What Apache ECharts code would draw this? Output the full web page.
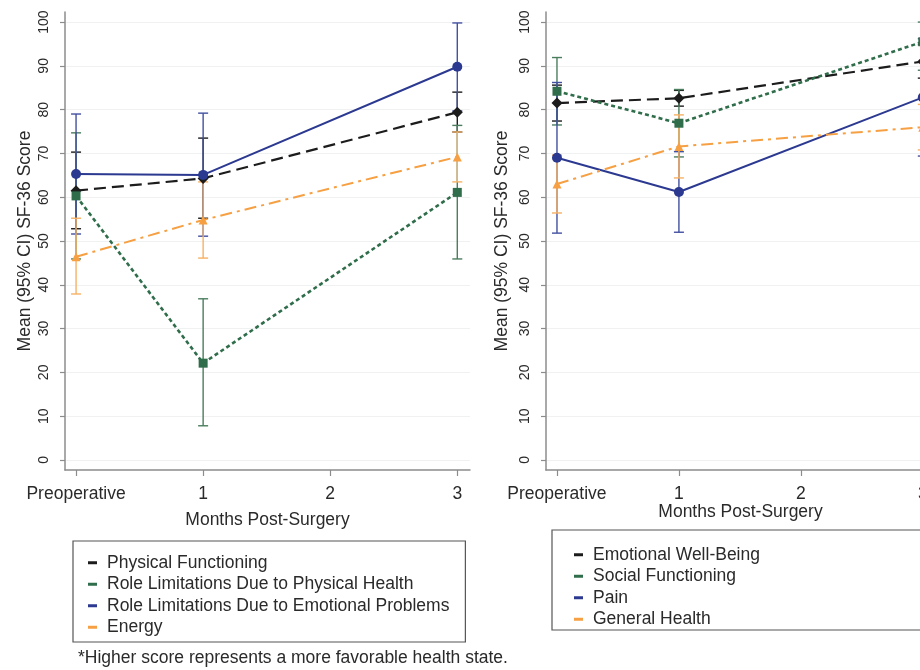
<!DOCTYPE html>
<html><head><meta charset="utf-8">
<script src="https://cdn.jsdelivr.net/npm/echarts@6/dist/echarts.min.js"></script>
<style>html,body{margin:0;padding:0;background:#fff}#c{width:920px;height:670px}</style>
</head><body><div id="c"></div>
<script>
// ---- tick labels / categories ----
const xTickValues = [0, 1, 2, 3];
const xTickLabels = ['Preoperative', '1', '2', '3'];
const yTickValues = [0, 10, 20, 30, 40, 50, 60, 70, 80, 90, 100];
const months = [0, 1, 3];

// ---- left panel ----
const pfName = 'Physical Functioning';
const pfMean = [61.5, 64.3, 79.4];
const pfLow  = [52.8, 55.2, 74.9];
const pfHigh = [70.3, 73.5, 84.0];

const rpName = 'Role Limitations Due to Physical Health';
const rpMean = [60.3, 22.1, 61.1];
const rpLow  = [45.9, 7.8, 45.9];
const rpHigh = [74.7, 36.8, 76.4];

const reName = 'Role Limitations Due to Emotional Problems';
const reMean = [65.3, 65.1, 89.8];
const reLow  = [51.6, 51.1, 79.7];
const reHigh = [79.0, 79.2, 99.8];

const enName = 'Energy';
const enMean = [46.4, 54.8, 69.2];
const enLow  = [37.9, 46.1, 63.5];
const enHigh = [55.2, 63.5, 74.9];

// ---- right panel ----
const ewbName = 'Emotional Well-Being';
const ewbMean = [81.5, 82.6, 91.0];
const ewbLow  = [77.4, 80.8, 87.2];
const ewbHigh = [85.6, 84.4, 94.8];

const sfName = 'Social Functioning';
const sfMean = [84.2, 76.9, 95.5];
const sfLow  = [76.5, 69.2, 89.0];
const sfHigh = [91.9, 84.6, 100.0];

const painName = 'Pain';
const painMean = [69.0, 61.2, 82.8];
const painLow  = [51.8, 52.0, 69.4];
const painHigh = [86.2, 70.4, 96.2];

const ghName = 'General Health';
const ghMean = [63.0, 71.6, 76.0];
const ghLow  = [56.4, 64.4, 70.8];
const ghHigh = [69.6, 78.8, 81.2];

const footnote = '*Higher score represents a more favorable health state.';
const xName = 'Months Post-Surgery';
const yName = 'Mean (95% CI) SF-36 Score';

// ---- styles ----
const FONT = 'Liberation Sans';
const BLACK = '#1c1c1c', GREEN = '#2f6d4b', BLUE = '#2b3990', ORANGE = '#f6a043';
const AXIS = '#8c8c8c', TXT = '#2a2a2a';
const LONG_DASH = [12, 6], SHORT_DASH = [4, 3], DASH_DOT = [12, 5, 3, 5];

function lineSeries(name, g, mean, color, type, width, symbol, size) {
  return {
    name, type: 'line', xAxisIndex: g, yAxisIndex: g,
    data: months.map((m, i) => [m, mean[i]]),
    symbol, symbolSize: size, showSymbol: true, clip: false,
    itemStyle: { color }, lineStyle: { color, width, type },
    z: 3, animation: false
  };
}
function errSeries(g, low, high, color) {
  return {
    type: 'custom', xAxisIndex: g, yAxisIndex: g, z: 2, animation: false, clip: false,
    encode: { x: 0, y: [1, 2] },
    data: months.map((m, i) => [m, low[i], high[i]]),
    renderItem: function (params, api) {
      const x = api.value(0);
      const a = api.coord([x, api.value(1)]);
      const b = api.coord([x, api.value(2)]);
      const w = 5;
      const style = { stroke: color, lineWidth: 1.4 };
      return { type: 'group', children: [
        { type: 'line', shape: { x1: a[0], y1: a[1], x2: b[0], y2: b[1] }, style },
        { type: 'line', shape: { x1: a[0] - w, y1: a[1], x2: a[0] + w, y2: a[1] }, style },
        { type: 'line', shape: { x1: b[0] - w, y1: b[1], x2: b[0] + w, y2: b[1] }, style }
      ]};
    }
  };
}
function xAxisCfg(g, min, max, nameGap) {
  return {
    type: 'value', gridIndex: g, min, max,
    name: xName, nameLocation: 'middle', nameGap, nameMoveOverlap: false,
    nameTextStyle: { fontSize: 17.5, color: TXT, fontFamily: FONT },
    axisLine: { show: true, onZero: false, lineStyle: { color: AXIS, width: 1.5 } },
    axisTick: { show: true, customValues: xTickValues, length: 6, lineStyle: { color: AXIS, width: 1.2 } },
    axisLabel: { customValues: xTickValues, formatter: v => xTickLabels[xTickValues.indexOf(v)],
                 fontSize: 17.5, color: TXT, fontFamily: FONT, margin: 15 },
    splitLine: { show: false }
  };
}
function yAxisCfg(g, nameGap) {
  return {
    type: 'value', gridIndex: g, min: -2.3, max: 102.3,
    name: yName, nameLocation: 'middle', nameGap, nameMoveOverlap: false,
    nameTextStyle: { fontSize: 17.5, color: TXT, fontFamily: FONT },
    axisLine: { show: true, onZero: false, lineStyle: { color: AXIS, width: 1.5 } },
    axisTick: { show: true, customValues: yTickValues, length: 5, lineStyle: { color: AXIS, width: 1.2 } },
    axisLabel: { customValues: yTickValues, rotate: 90, fontSize: 14, color: TXT, fontFamily: FONT, margin: 14 },
    splitLine: { show: true, lineStyle: { color: '#f0f2f2', width: 1 } }
  };
}
function legendCfg(names, left, top, padding) {
  return {
    data: names, orient: 'vertical', left, top, padding,
    itemGap: 0, itemWidth: 9, itemHeight: 3, icon: 'rect',
    borderColor: '#555', borderWidth: 1.2, borderRadius: 0,
    selectedMode: false,
    textStyle: { fontSize: 17.5, color: TXT, fontFamily: FONT, lineHeight: 21.5, padding: [0, 0, 0, 5] }
  };
}

const option = {
  backgroundColor: '#fff',
  animation: false,
  textStyle: { fontFamily: FONT },
  title: { text: footnote, left: 73, top: 644,
           textStyle: { fontSize: 17.5, fontWeight: 'normal', color: TXT, fontFamily: FONT } },
  grid: [
    { left: 65, top: 12, width: 405, height: 458, outerBoundsMode: 'none', containLabel: false },
    { left: 546, top: 12, width: 389, height: 458, outerBoundsMode: 'none', containLabel: false }
  ],
  xAxis: [xAxisCfg(0, -0.087, 3.1, 41), xAxisCfg(1, -0.09, 3.1, 33)],
  yAxis: [yAxisCfg(0, 31), yAxisCfg(1, 35)],
  legend: [
    legendCfg([pfName, rpName, reName, enName], 73, 541, [11, 16, 4, 15]),
    legendCfg([ewbName, sfName, painName, ghName], 552, 530, [14, 170, 0, 22])
  ],
  series: [
    errSeries(0, pfLow, pfHigh, BLACK),
    errSeries(0, rpLow, rpHigh, '#4b7d5e'),
    errSeries(0, reLow, reHigh, '#4250a0'),
    errSeries(0, enLow, enHigh, '#f7b163'),
    lineSeries(pfName, 0, pfMean, BLACK, LONG_DASH, 2.2, 'diamond', 11),
    lineSeries(rpName, 0, rpMean, GREEN, SHORT_DASH, 2.6, 'rect', 9),
    lineSeries(reName, 0, reMean, BLUE, 'solid', 2, 'circle', 10),
    lineSeries(enName, 0, enMean, ORANGE, DASH_DOT, 2, 'triangle', 9),

    errSeries(1, ewbLow, ewbHigh, BLACK),
    errSeries(1, sfLow, sfHigh, '#4b7d5e'),
    errSeries(1, painLow, painHigh, '#4250a0'),
    errSeries(1, ghLow, ghHigh, '#f7b163'),
    lineSeries(ewbName, 1, ewbMean, BLACK, LONG_DASH, 2.2, 'diamond', 11),
    lineSeries(sfName, 1, sfMean, GREEN, SHORT_DASH, 2.6, 'rect', 9),
    lineSeries(painName, 1, painMean, BLUE, 'solid', 2, 'circle', 10),
    lineSeries(ghName, 1, ghMean, ORANGE, DASH_DOT, 2, 'triangle', 9)
  ]
};
const chart = echarts.init(document.getElementById('c'), null, { renderer: 'canvas' });
chart.setOption(option);
</script>
</body></html>
